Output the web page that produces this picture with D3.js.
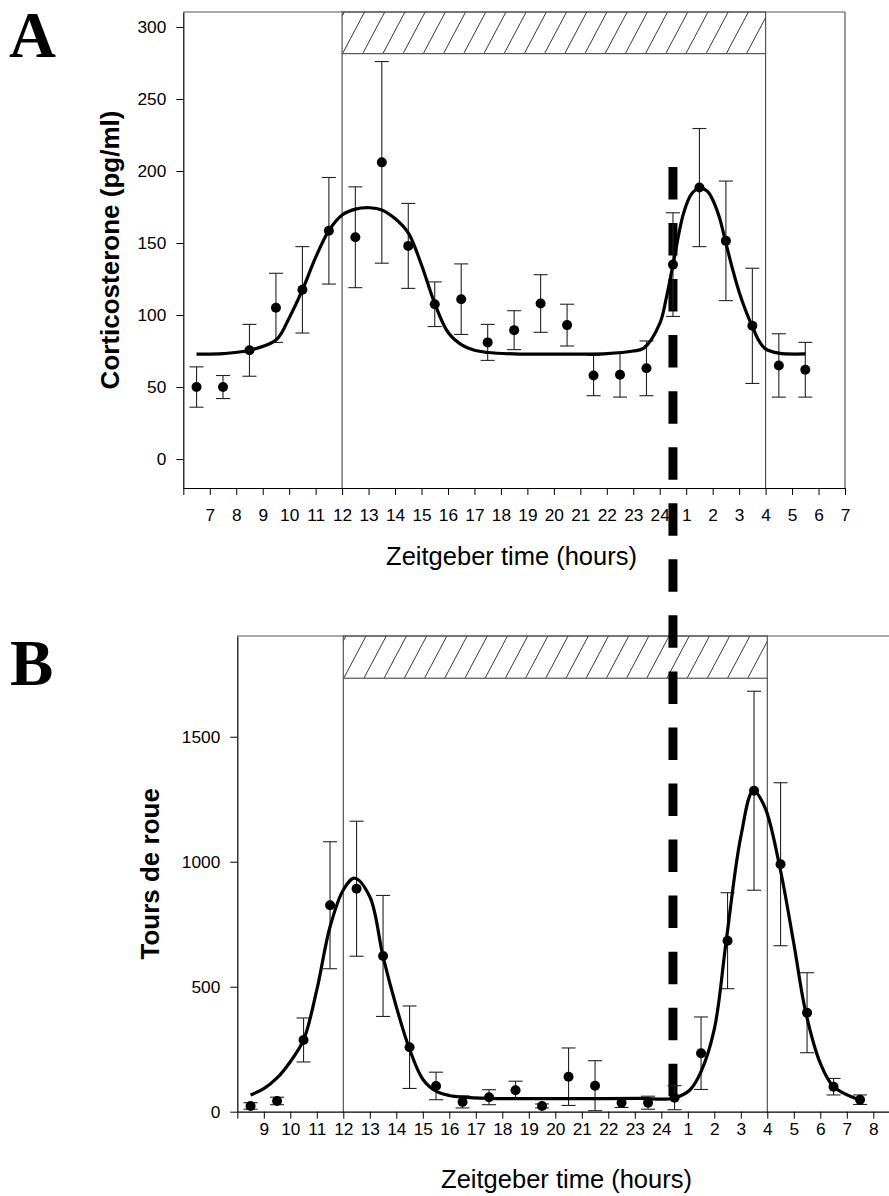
<!DOCTYPE html>
<html>
<head>
<meta charset="utf-8">
<script src="https://cdn.jsdelivr.net/npm/d3@7"></script>
<style>
  html, body { margin: 0; padding: 0; background: #fff; }
  svg { display: block; }
</style>
</head>
<body>
<script>
// ---------------- DATA ----------------
// Panel A : corticosterone
const hoursA = [6.5,7.5,8.5,9.5,10.5,11.5,12.5,13.5,14.5,15.5,16.5,17.5,18.5,19.5,20.5,21.5,22.5,23.5,24.5,25.5,26.5,27.5,28.5,29.5];
const corticoMean = [50,50,75.5,105,117.5,158.5,154,206,148,107.5,111,81,89.5,108,93,58,58.5,63,135,188.5,151.5,92.5,65,62];
const corticoErr  = [14,8,18,24,30,37,35,70,29.5,15.5,24.5,12.5,13.5,20,14.5,14,15.5,19,36,41,41.5,40,22,19];
// fitted curve
const fitHoursA  = [6.5,7.5,8.5,9.5,10,10.5,11,11.5,12,12.5,13.05,13.5,14,14.5,15,15.5,16,16.5,17,17.5,18.5,20,22,23,23.4,24,24.25,24.5,24.9,25.2,25.5,25.8,26,26.25,26.5,26.75,27,27.25,27.5,27.75,28,28.5,29.5];
const fitValuesA = [72.9,73.2,75.5,82.6,98,117.4,140,158.6,169.4,173.5,174.5,173,167,157,134.7,108,88,79.5,75.5,74,73,72.8,73.2,75,77,94,112,134.7,170.6,184,188,186,180,168,150,132,116,103,92,82,76.5,73.5,73];
const ticksA = [6,7,8,9,10,11,12,13,14,15,16,17,18,19,20,21,22,23,24,25,26,27,28,29,30,31];
const tickLabelsA = ["","7","8","9","10","11","12","13","14","15","16","17","18","19","20","21","22","23","24","1","2","3","4","5","6","7"];
const yTicksA = [0,50,100,150,200,250,300];

// Panel B : wheel running
const hoursB = [8.5,9.5,10.5,11.5,12.5,13.5,14.5,15.5,16.5,17.5,18.5,19.5,20.5,21.5,22.5,23.5,24.5,25.5,26.5,27.5,28.5,29.5,30.5,31.5];
const toursMean = [23,43,287,826,892,623,258,103,39,58,86,23,140,104,36,36,56,234,684,1284,990,396,100,48];
const toursErr  = [13,15,88,254,270,242,165,55,24,30,36,8,115,100,19,26,48,145,192,398,326,160,33,19];
const fitHoursB  = [8.5,9,9.5,10,10.5,11,11.5,12,12.42,13,13.5,14,14.5,15,15.5,16,16.5,17.5,19,21,23.2,24.45,25.08,25.5,26,26.45,27,27.47,27.9,28.45,29,29.45,30,30.5,31.4];
const fitValuesB = [67,92,135,200,287,487,740,887,934,860,620,420,250,130,82,65,58,53,52,52,53,54,87,160,330,684,1100,1284,1220,990,673,398,194,100,50];
const ticksB = [8,9,10,11,12,13,14,15,16,17,18,19,20,21,22,23,24,25,26,27,28,29,30,31,32];
const tickLabelsB = ["","9","10","11","12","13","14","15","16","17","18","19","20","21","22","23","24","1","2","3","4","5","6","7","8"];
const yTicksB = [0,500,1000,1500];

// dark phase (hatched bar) and the dashed marker
const darkPhase = [12, 28];
const markerHour = 24.5;

// ---------------- DRAW ----------------
const W = 889, H = 1196;
const svg = d3.select("body").append("svg")
  .attr("width", W).attr("height", H)
  .attr("font-family", "'Liberation Sans', Arial, sans-serif");
svg.append("rect").attr("width", W).attr("height", H).attr("fill", "#fff");

const FRAME = "#555";

function panel(cfg) {
  const {x, y, hours, mean, err, fitH, fitV, ticks, tickLabels, yTicks, barTop, barBottom, labelPad, xTitle, yTitle, yTitleX} = cfg;
  const g = svg.append("g");
  const [x0, x1] = x.range();
  const [yb, yt] = y.range();

  // frame top and right
  g.append("line").attr("x1", x0).attr("x2", x1).attr("y1", yt).attr("y2", yt)
    .attr("stroke", FRAME).attr("stroke-width", 1.2);
  g.append("line").attr("x1", x1).attr("x2", x1).attr("y1", yt).attr("y2", yb)
    .attr("stroke", FRAME).attr("stroke-width", 1.2);

  // hatched dark-phase bar
  const hx0 = x(darkPhase[0]), hx1 = x(darkPhase[1]);
  const hy0 = y(barTop), hy1 = y(barBottom);
  const clipId = "clip" + Math.round(hy0);
  g.append("clipPath").attr("id", clipId).append("rect")
    .attr("x", hx0).attr("y", hy0).attr("width", hx1 - hx0).attr("height", hy1 - hy0);
  const hatch = g.append("g").attr("clip-path", `url(#${clipId})`);
  const hh = hy1 - hy0;
  for (let xs = hx0 - 40; xs < hx1 + 20; xs += 20.2) {
    hatch.append("line").attr("x1", xs).attr("y1", hy1).attr("x2", xs + hh * 0.53).attr("y2", hy0)
      .attr("stroke", "#222").attr("stroke-width", 0.9);
  }
  g.append("rect").attr("x", hx0).attr("y", hy0).attr("width", hx1 - hx0).attr("height", hy1 - hy0)
    .attr("fill", "none").attr("stroke", FRAME).attr("stroke-width", 1.2);

  // vertical lines at lights off/on
  darkPhase.forEach(h => {
    g.append("line").attr("x1", x(h)).attr("x2", x(h)).attr("y1", hy1).attr("y2", yb)
      .attr("stroke", "#444").attr("stroke-width", 1.1);
  });

  // axes
  const ax = g.append("g").attr("transform", `translate(0,${yb})`)
    .call(d3.axisBottom(x).tickValues(ticks).tickFormat((d, i) => tickLabels[i])
      .tickSize(7).tickSizeOuter(0).tickPadding(labelPad));
  const ay = g.append("g").attr("transform", `translate(${x0},0)`)
    .call(d3.axisLeft(y).tickValues(yTicks).tickFormat(d3.format("d"))
      .tickSize(7).tickSizeOuter(0).tickPadding(10));
  [ax, ay].forEach(a => {
    a.selectAll("text").attr("font-size", 17.3).attr("fill", "#000")
      .attr("font-family", "'Liberation Sans', Arial, sans-serif");
    a.selectAll("line").attr("stroke", "#000");
    a.select(".domain").attr("stroke", "#000").attr("stroke-width", 1.2);
  });

  // titles
  g.append("text").attr("x", xTitle[0]).attr("y", xTitle[1]).attr("text-anchor", "middle")
    .attr("font-size", 25.5).text("Zeitgeber time (hours)");
  g.append("text").attr("transform", `translate(${yTitleX},${(yb + yt) / 2}) rotate(-90)`)
    .attr("text-anchor", "middle").attr("font-size", 26).attr("font-weight", "bold")
    .text(yTitle);

  return {g, drawData: () => {
    const dg = svg.append("g");
    // error bars
    hours.forEach((h, i) => {
      const cx = x(h);
      const top = y(mean[i] + err[i]), bot = y(Math.max(mean[i] - err[i], y.domain()[0]));
      dg.append("line").attr("x1", cx).attr("x2", cx).attr("y1", top).attr("y2", bot)
        .attr("stroke", "#222").attr("stroke-width", 1.1);
      [top, y(mean[i] - err[i])].forEach(yy => {
        dg.append("line").attr("x1", cx - 7).attr("x2", cx + 7).attr("y1", yy).attr("y2", yy)
          .attr("stroke", "#222").attr("stroke-width", 1.1);
      });
    });
    // fitted curve
    const line = d3.line().x((d, i) => x(fitH[i])).y((d, i) => y(fitV[i])).curve(d3.curveCatmullRom.alpha(0.5));
    dg.append("path").attr("d", line(fitH)).attr("fill", "none")
      .attr("stroke", "#000").attr("stroke-width", 3.2);
    // points
    dg.selectAll("circle.pt").data(hours).enter().append("circle")
      .attr("cx", d => x(d)).attr("cy", (d, i) => y(mean[i])).attr("r", 5).attr("fill", "#000");
  }};
}

const xA = d3.scaleLinear().domain([6, 31]).range([183.3, 845]);
const yA = d3.scaleLinear().domain([-20.1, 310.4]).range([488, 12]);
const xB = d3.scaleLinear().domain([8, 33]).range([237.3, 899.8]);
const yB = d3.scaleLinear().domain([0, 1903]).range([1111.7, 636]);

const pA = panel({x: xA, y: yA, hours: hoursA, mean: corticoMean, err: corticoErr,
  fitH: fitHoursA, fitV: fitValuesA, ticks: ticksA, tickLabels: tickLabelsA, yTicks: yTicksA,
  barTop: 310.4, barBottom: 281.5, labelPad: 13.5, xTitle: [511.5, 565],
  yTitle: "Corticosterone (pg/ml)", yTitleX: 119});
const pB = panel({x: xB, y: yB, hours: hoursB, mean: toursMean, err: toursErr,
  fitH: fitHoursB, fitV: fitValuesB, ticks: ticksB, tickLabels: tickLabelsB, yTicks: yTicksB,
  barTop: 1903, barBottom: 1734, labelPad: 4.2, xTitle: [566.5, 1188],
  yTitle: "Tours de roue", yTitleX: 159});

// dashed marker line spanning both panels
svg.append("line")
  .attr("x1", xA(markerHour)).attr("x2", xA(markerHour))
  .attr("y1", yA(202.8)).attr("y2", yB(62))
  .attr("stroke", "#000").attr("stroke-width", 9)
  .attr("stroke-dasharray", "32.5,23.55");

pA.drawData();
pB.drawData();

// panel letters
svg.append("text").attr("x", 9).attr("y", 57).attr("font-family", "'Liberation Serif', 'Times New Roman', serif")
  .attr("font-weight", "bold").attr("font-size", 65).text("A");
svg.append("text").attr("x", 10).attr("y", 685).attr("font-family", "'Liberation Serif', 'Times New Roman', serif")
  .attr("font-weight", "bold").attr("font-size", 65).text("B");
</script>
</body>
</html>
